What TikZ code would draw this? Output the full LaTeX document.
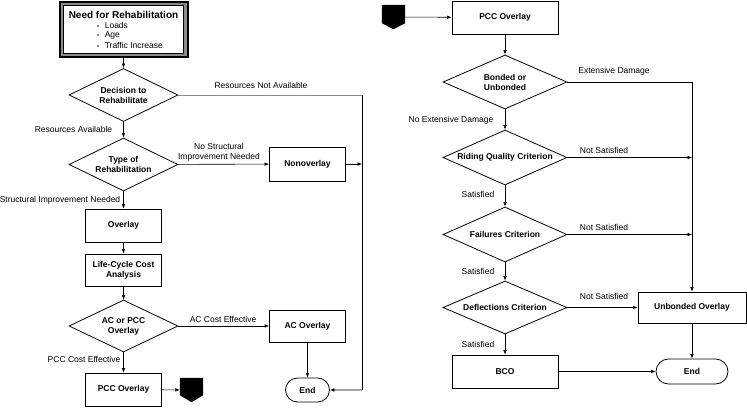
\documentclass[tikz,border=0pt]{standalone}
\usepackage{fontspec}
\setmainfont{Liberation Sans}
\usetikzlibrary{shapes.geometric,shapes.misc,arrows.meta}
\begin{document}
\begin{tikzpicture}[x=1pt,y=-1pt,
  lbl/.style={font=\fontsize{8.5}{10}\selectfont, inner sep=0pt},
  box/.style={draw, line width=0.8pt, rectangle, inner sep=1pt, align=center,
    font=\fontsize{8.5}{10}\selectfont\bfseries},
  dia/.style={draw, line width=0.8pt, diamond, aspect=2.1, inner sep=0pt, align=center,
    font=\fontsize{8.5}{10}\selectfont\bfseries},
  term/.style={draw, line width=0.8pt, rounded rectangle, inner sep=1pt,
    font=\fontsize{8.5}{10}\selectfont\bfseries},
  offpage/.style={inner sep=0pt, minimum width=23pt, minimum height=24pt},
  needouter/.style={draw, line width=2pt, fill=black!45, minimum width=128pt, minimum height=55pt, inner sep=0pt},
  needinner/.style={draw, line width=0.6pt, fill=white, minimum width=120pt, minimum height=48pt, inner sep=0pt},
  arr/.style={-{Latex[length=4.5pt,width=3.6pt]}, line width=0.6pt},
  plain/.style={line width=0.6pt},
]
\useasboundingbox (0,0) rectangle (747,407);

% ---------------- left column ----------------
\node[needouter] (need) at (123.5,29.5) {};
\node[needinner] (needin) at (need) {};
\node[font=\fontsize{10}{12}\selectfont\bfseries, inner sep=0pt] (needt) at (123.5,15) {Need for Rehabilitation};
\node[lbl, anchor=west] (b1) at (97,25) {{\fontsize{6}{7}\selectfont•}\hspace{5.5pt}Loads};
\node[lbl, anchor=west] (b2) at (97,35) {{\fontsize{6}{7}\selectfont•}\hspace{5.5pt}Age};
\node[lbl, anchor=west] (b3) at (97,45) {{\fontsize{6}{7}\selectfont•}\hspace{5.5pt}Traffic Increase};

\node[dia, minimum width=109pt, minimum height=53pt] (dec) at (123.5,95) {Decision to\\Rehabilitate};
\node[dia, minimum width=109pt, minimum height=53pt] (type) at (123.5,164.5) {Type of\\Rehabilitation};
\node[box, minimum width=76pt, minimum height=34pt] (nonov) at (307.5,164) {Nonoverlay};
\node[box, minimum width=76pt, minimum height=33pt] (overlay) at (123.5,225.5) {Overlay};
\node[box, minimum width=76pt, minimum height=32pt] (lcca) at (123.5,270) {Life-Cycle Cost\\Analysis};
\node[dia, minimum width=109pt, minimum height=52pt] (acpcc) at (123.5,326) {AC or PCC\\Overlay};
\node[box, minimum width=76pt, minimum height=32pt] (acov) at (307.5,326) {AC Overlay};
\node[term, minimum width=46pt, minimum height=24pt] (endL) at (307.5,390) {End};
\node[box, minimum width=76pt, minimum height=33pt] (pccL) at (123.5,389.5) {PCC Overlay};
\node[offpage] (offL) at (191.5,390) {};
\fill (offL.north west) -- (offL.north east) -- ([yshift=7pt]offL.south east) -- (offL.south) -- ([yshift=7pt]offL.south west) -- cycle;

\node[lbl] (lrna) at (261,85) {Resources Not Available};
\node[lbl] (lra) at (73.5,129) {Resources Available};
\node[lbl, align=center] (lnsi) at (219,152) {No Structural\\Improvement Needed};
\node[lbl] (lsin) at (60,200) {Structural Improvement Needed};
\node[lbl] (lace) at (223,319) {AC Cost Effective};
\node[lbl] (lpce) at (84,359) {PCC Cost Effective};

\coordinate (cTop) at (362,95);
\coordinate (cMid) at (362,164);
\coordinate (cBot) at (362,390);

\draw[arr] (need) -- (dec);
\draw[arr] (dec) -- (type);
\draw[arr] (type) -- (nonov);
\draw[arr] (type) -- (overlay);
\draw[arr] (overlay) -- (lcca);
\draw[arr] (lcca) -- (acpcc);
\draw[arr] (acpcc) -- (acov);
\draw[arr] (acpcc) -- (pccL);
\draw[arr] (acov) -- (endL);
\draw[arr] (pccL) -- (offL);
\draw[arr] (nonov) -- (cMid);
\draw[plain, black!45] (dec.east) -- (cTop);
\draw[plain] (cTop) -- (cBot);
\draw[arr] (cBot) -- (endL);

% ---------------- right column ----------------
\node[offpage] (offR) at (393.5,17) {};
\fill (offR.north west) -- (offR.north east) -- ([yshift=6pt]offR.south east) -- (offR.south) -- ([yshift=6pt]offR.south west) -- cycle;
\node[box, minimum width=106pt, minimum height=33pt] (pccR) at (505,17.5) {PCC Overlay};
\node[dia, minimum width=124pt, minimum height=54pt] (bond) at (505,82) {Bonded or\\Unbonded};
\node[dia, minimum width=124pt, minimum height=55pt] (ride) at (505,157.5) {Riding Quality Criterion};
\node[dia, minimum width=124pt, minimum height=55pt] (fail) at (505,234.5) {Failures Criterion};
\node[dia, minimum width=124pt, minimum height=53pt] (defl) at (505,307.5) {Deflections Criterion};
\node[box, minimum width=108pt, minimum height=31pt] (unb) at (692,307.5) {Unbonded Overlay};
\node[box, minimum width=106pt, minimum height=33pt] (bco) at (505,371.5) {BCO};
\node[term, minimum width=74pt, minimum height=25pt] (endR) at (692,371.5) {End};

\node[lbl] (led) at (614,71) {Extensive Damage};
\node[lbl] (lned) at (451,120) {No Extensive Damage};
\node[lbl] (lns1) at (604,150) {Not Satisfied};
\node[lbl] (lns2) at (604,227) {Not Satisfied};
\node[lbl] (lns3) at (604,296) {Not Satisfied};
\node[lbl] (ls1) at (478,194) {Satisfied};
\node[lbl] (ls2) at (478,271) {Satisfied};
\node[lbl] (ls3) at (478,344) {Satisfied};

\coordinate (rTop) at (692,82);
\coordinate (r1) at (692,157.5);
\coordinate (r2) at (692,234.5);

\draw[arr] (offR) -- (pccR);
\draw[arr] (pccR) -- (bond);
\draw[arr] (bond) -- (ride);
\draw[arr] (ride) -- (fail);
\draw[arr] (fail) -- (defl);
\draw[arr] (defl) -- (bco);
\draw[arr] (defl) -- (unb);
\draw[arr] (bco) -- (endR);
\draw[arr] (unb) -- (endR);
\draw[plain] (bond.east) -- (rTop);
\draw[arr] (rTop) -- (unb);
\draw[arr] (ride.east) -- (r1);
\draw[arr] (fail.east) -- (r2);
\end{tikzpicture}
\end{document}
